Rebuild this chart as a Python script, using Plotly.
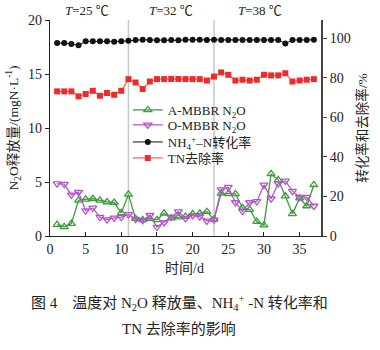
import plotly.graph_objects as go

days = list(range(1, 38))
a_mbbr_n2o = [1.05, 0.85, 1.15, 3.3, 3.4, 3.45, 3.3, 3.15, 3.1, 2.15, 3.85, 1.6, 1.5, 1.6, 1.5, 2.1, 1.65, 1.75,
              1.8, 2.05, 2.1, 2.25, 1.55, 3.95, 3.9, 3.9, 2.6, 2.45, 1.33, 1.0, 5.75, 5.2, 3.7, 2.05, 3.5, 2.78, 4.73]
o_mbbr_n2o = [4.85, 4.8, 3.8, 4.05, 2.35, 2.6, 1.75, 1.52, 1.68, 1.75, 2.0, 1.56, 1.45, 1.92, 0.83, 1.25, 1.75, 2.25,
              1.63, 1.9, 1.8, 1.4, 1.5, 4.3, 4.52, 3.1, 2.3, 3.1, 3.2, 4.73, 3.45, 4.86, 5.1, 4.15, 3.6, 3.6, 2.78]
nh4_conv = [97.6, 97.6, 97.1, 96.4, 98.4, 98.4, 98.4, 98.4, 98.2, 98.4, 98.7, 99.1, 99.2, 99.1, 99.0, 98.9, 99.1, 98.9,
            99.2, 99.2, 99.2, 99.1, 99.2, 99.1, 99.1, 99.1, 99.1, 99.1, 99.1, 99.1, 99.1, 99.1, 97.3, 99.1, 99.1, 99.1, 99.2]
tn_removal = [73.1, 73.1, 73.1, 70.6, 71.8, 73.4, 70.9, 72.3, 71.4, 73.4, 79.3, 77.6, 74.3, 78.1, 79.3, 79.3, 79.4, 79.4,
              79.3, 79.3, 79.3, 78.6, 80.6, 82.7, 81.5, 78.6, 79.0, 78.6, 79.0, 81.5, 81.2, 81.2, 82.3, 78.1, 78.6, 79.0, 79.3]
x_ticks = [0, 5, 10, 15, 20, 25, 30, 35]
left_ticks = [0, 5, 10, 15, 20]
right_ticks = [0, 20, 40, 60, 80, 100]
phase_bounds = [11, 23]
phase_labels = ["<i>T</i>=25 ℃", "<i>T</i>=32 ℃", "<i>T</i>=38 ℃"]
phase_label_x = [5.2, 17.0, 29.4]

SERIF = "Times New Roman, Liberation Serif, Noto Sans CJK SC, serif"

plot_top, plot_bot = 20, 236
def py(pix):
    return (plot_bot - pix) / (plot_bot - plot_top)
def px(pix):
    return (pix - 50.3) / (321 - 50.3)

fig = go.Figure()
fig.add_trace(go.Scatter(x=days, y=a_mbbr_n2o, name="A-MBBR N<sub>2</sub>O", mode="lines+markers",
                         legend="legend",
                         line=dict(color="#3d9a3d", width=1.3),
                         marker=dict(symbol="triangle-up-open", size=7, color="#3d9a3d", line=dict(width=1.3))))
fig.add_trace(go.Scatter(x=days, y=o_mbbr_n2o, name="O-MBBR N<sub>2</sub>O", mode="lines+markers",
                         legend="legend2",
                         line=dict(color="#b455c8", width=1.3),
                         marker=dict(symbol="triangle-down-open", size=7, color="#b455c8", line=dict(width=1.3))))
fig.add_trace(go.Scatter(x=days, y=nh4_conv, name="NH<sub>4</sub><sup>+</sup>–N转化率", mode="lines+markers",
                         legend="legend3",
                         yaxis="y2", line=dict(color="#111111", width=1),
                         marker=dict(symbol="circle", size=6, color="#111111")))
fig.add_trace(go.Scatter(x=days, y=tn_removal, name="TN去除率", mode="lines+markers",
                         legend="legend4",
                         yaxis="y2", line=dict(color="#ff6060", width=1.2),
                         marker=dict(symbol="square", size=6, color="#ee2a2a")))

for b in phase_bounds:
    fig.add_shape(type="line", x0=b, x1=b, y0=0, y1=1, xref="x", yref="paper",
                  line=dict(color="#c8c8c8", width=1.5), layer="below")

for lx, lt in zip(phase_label_x, phase_labels):
    fig.add_annotation(x=lx, y=py(10), xref="x", yref="paper", text=lt, showarrow=False,
                       font=dict(size=13, family=SERIF, color="#222"), yanchor="middle")
fig.add_annotation(x=px(185), y=py(268), xref="paper", yref="paper", text="时间/d", showarrow=False,
                   font=dict(size=14, family=SERIF, color="#222"), yanchor="middle")
fig.add_annotation(x=px(180), y=py(303), xref="paper", yref="paper", showarrow=False,
                   text="图 4    温度对 N<sub>2</sub>O 释放量、NH<sub>4</sub><sup>+</sup> -N 转化率和",
                   font=dict(size=15, family=SERIF, color="#222"), xanchor="center", yanchor="middle")
fig.add_annotation(x=px(179), y=py(329), xref="paper", yref="paper", showarrow=False,
                   text="TN 去除率的影响",
                   font=dict(size=15, family=SERIF, color="#222"), xanchor="center", yanchor="middle")

def leg(yc):
    return dict(x=px(128), y=py(yc), xanchor="left", yanchor="middle",
                bgcolor="rgba(0,0,0,0)", font=dict(size=13, family=SERIF, color="#222"),
                itemwidth=30)

fig.update_layout(
    width=380, height=350,
    margin=dict(l=50, r=59, t=20, b=114),
    paper_bgcolor="white", plot_bgcolor="white",
    font=dict(family=SERIF, size=14, color="#222"),
    showlegend=True,
    legend=leg(110),
    legend2=leg(125),
    legend3=leg(142),
    legend4=leg(158),
    xaxis=dict(range=[0, 38], tickvals=x_ticks, ticks="inside", ticklen=4, tickcolor="#222",
               showline=True, linecolor="#222", linewidth=1.2, showgrid=False, zeroline=False,
               tickfont=dict(size=14, family=SERIF)),
    yaxis=dict(range=[0, 20], tickvals=left_ticks, ticks="outside", ticklen=4, tickcolor="#222",
               showline=True, linecolor="#222", linewidth=1.2, showgrid=False, zeroline=False,
               tickfont=dict(size=14, family=SERIF),
               title=dict(text="N<sub>2</sub>O释放量/(mgN·L<sup>-1</sup>)", standoff=6,
                          font=dict(size=13.5, family=SERIF))),
    yaxis2=dict(range=[0, 109.2], tickvals=right_ticks, ticks="outside", ticklen=4, tickcolor="#444",
                overlaying="y", side="right", showline=True, linecolor="#444", linewidth=2,
                showgrid=False, zeroline=False, tickfont=dict(size=14, family=SERIF),
                title=dict(text="转化率和去除率/%", standoff=8, font=dict(size=13.5, family=SERIF))),
)

fig.write_html("out.html")
